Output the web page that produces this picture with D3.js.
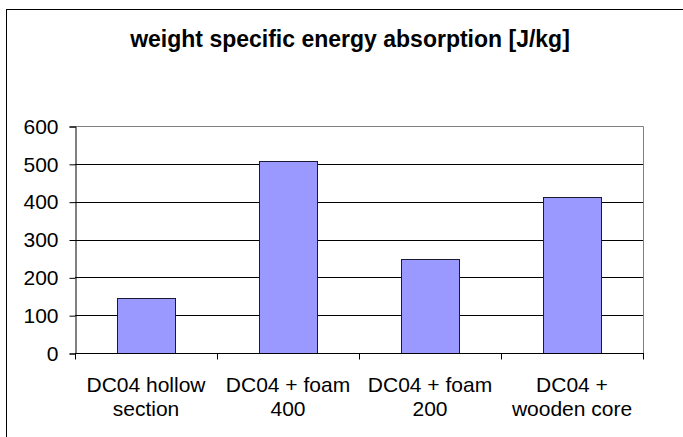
<!DOCTYPE html>
<html>
<head>
<meta charset="utf-8">
<script src="https://cdn.jsdelivr.net/npm/d3@7/dist/d3.min.js"></script>
<style>
  html, body { margin: 0; padding: 0; background: #fff; overflow: hidden; }
  svg { display: block; font-family: "Liberation Sans", Arial, sans-serif; }
</style>
</head>
<body>
<svg id="chart" width="683" height="437"></svg>
<script>
// Chart data
const categories = [
  ["DC04 hollow", "section"],
  ["DC04 + foam", "400"],
  ["DC04 + foam", "200"],
  ["DC04 +", "wooden core"]
];
const values = [145, 508, 248, 413];
const yTicks = [0, 100, 200, 300, 400, 500, 600];
const title = "weight specific energy absorption [J/kg]";

const svg = d3.select("#chart");
const W = 683, H = 437;

// Outer chart frame (left and top edges visible, extends past right/bottom)
svg.append("rect")
  .attr("x", 6.5).attr("y", 9.5)
  .attr("width", W + 20).attr("height", H + 20)
  .attr("fill", "#fff").attr("stroke", "#000").attr("stroke-width", 1);

const plot = { left: 75, right: 643, top: 126, bottom: 353 };

const x = d3.scaleBand()
  .domain(d3.range(categories.length))
  .range([plot.left, plot.right])
  .paddingInner(0.59)
  .paddingOuter(0.295);

const xCat = d3.scaleBand()
  .domain(d3.range(categories.length))
  .range([plot.left, plot.right]);

const y = d3.scaleLinear().domain([0, 600]).range([plot.bottom, plot.top]);

// Gridlines
svg.append("g")
  .selectAll("line")
  .data(yTicks.filter(d => d > 0 && d < 600))
  .join("line")
  .attr("x1", plot.left).attr("x2", plot.right)
  .attr("y1", d => Math.round(y(d)) + 0.5).attr("y2", d => Math.round(y(d)) + 0.5)
  .attr("stroke", "#000").attr("stroke-width", 1);

// Plot area border (top and right)
svg.append("path")
  .attr("d", `M${plot.left},${plot.top + 0.5}H${plot.right + 0.5}V${plot.bottom}`)
  .attr("fill", "none").attr("stroke", "#808080").attr("stroke-width", 1);

// Bars
svg.append("g")
  .selectAll("rect")
  .data(values)
  .join("rect")
  .attr("x", (d, i) => Math.round(x(i)) + 0.5)
  .attr("y", d => Math.round(y(d)) + 0.5)
  .attr("width", Math.round(x.bandwidth()))
  .attr("height", d => Math.round(y(0)) - Math.round(y(d)))
  .attr("fill", "#9999FF")
  .attr("stroke", "#1a1a33").attr("stroke-width", 1);

// Y axis
const yAxis = d3.axisLeft(y).tickValues(yTicks).tickSize(6).tickPadding(11).tickFormat(d3.format("d"));
const gy = svg.append("g")
  .attr("transform", `translate(${plot.left + 0.5},0.5)`)
  .call(yAxis);
gy.select(".domain").attr("stroke", "#000");
gy.selectAll(".tick line").attr("stroke", "#000");
gy.selectAll(".tick text")
  .attr("font-size", 21).attr("fill", "#000")
  .attr("font-family", "'Liberation Sans', Arial, sans-serif");

// X axis with category boundary ticks
const gx = svg.append("g")
  .attr("transform", `translate(0,${Math.round(plot.bottom) + 0.5})`);
gx.append("line")
  .attr("x1", plot.left).attr("x2", plot.right + 1)
  .attr("stroke", "#000");
const boundaries = d3.range(categories.length + 1).map(i =>
  i < categories.length ? xCat(i) : xCat(i - 1) + xCat.bandwidth());
gx.selectAll("line.tick")
  .data(boundaries)
  .join("line")
  .attr("class", "tick")
  .attr("x1", d => Math.round(d) + 0.5).attr("x2", d => Math.round(d) + 0.5)
  .attr("y1", 0).attr("y2", 6)
  .attr("stroke", "#000");

// Category labels
const labels = svg.append("g")
  .selectAll("text")
  .data(categories)
  .join("text")
  .attr("x", (d, i) => xCat(i) + xCat.bandwidth() / 2)
  .attr("y", 392)
  .attr("text-anchor", "middle")
  .attr("font-size", 21)
  .attr("fill", "#000");
labels.selectAll("tspan")
  .data(d => d)
  .join("tspan")
  .attr("x", function () { return d3.select(this.parentNode).attr("x"); })
  .attr("dy", (d, i) => i === 0 ? 0 : 24)
  .text(d => d);

// Title
svg.append("text")
  .attr("x", 350).attr("y", 47)
  .attr("text-anchor", "middle")
  .attr("font-size", 23).attr("font-weight", "bold")
  .attr("fill", "#000")
  .text(title);
</script>
</body>
</html>
